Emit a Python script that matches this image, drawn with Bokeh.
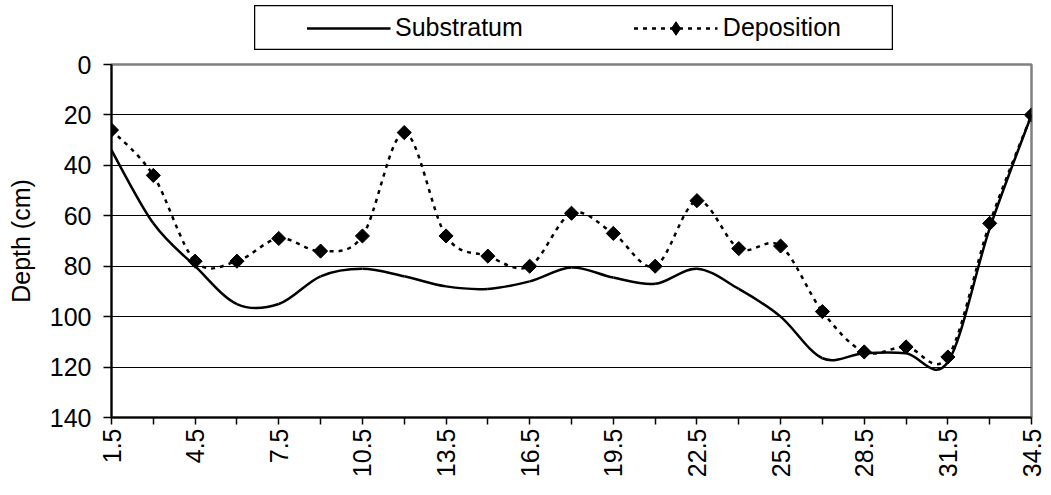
import numpy as np
from bokeh.plotting import figure
from bokeh.models import (Range1d, FixedTicker, Legend, LegendItem, Spacer)
from bokeh.layouts import column, row
from bokeh.embed import file_html
from bokeh.resources import INLINE

# ---- data ----
positions = [1.5, 3, 4.5, 6, 7.5, 9, 10.5, 12, 13.5, 15, 16.5, 18, 19.5, 21,
             22.5, 24, 25.5, 27, 28.5, 30, 31.5, 33, 34.5]
substratum = [34, 63, 80, 95, 95, 84, 81, 84, 88, 89, 86, 80.5, 84.5, 87,
              81, 89, 100, 116.5, 114.5, 114.5, 118, 65, 20]
deposition = [26, 44, 78, 78, 69, 74, 68, 27, 68, 76, 80, 59, 67, 80,
              54, 73, 72, 98, 114, 112, 116, 63, 20]
y_ticks = [0, 20, 40, 60, 80, 100, 120, 140]
x_tick_labels = ["1.5", "4.5", "7.5", "10.5", "13.5", "16.5", "19.5", "22.5",
                 "25.5", "28.5", "31.5", "34.5"]

FONT = "Liberation Sans"
FS = "25px"


def smooth_segments(xs, ys):
    """Bezier control points (Catmull-Rom style smoothing, like a 'smoothed line')."""
    x = np.asarray(xs, float)
    y = np.asarray(ys, float)
    n = len(x)
    xp = np.concatenate([[x[0]], x, [x[-1]]])
    yp = np.concatenate([[y[0]], y, [y[-1]]])
    d = dict(x0=[], y0=[], x1=[], y1=[], cx0=[], cy0=[], cx1=[], cy1=[])
    for i in range(n - 1):
        p0x, p0y = xp[i], yp[i]
        p1x, p1y = xp[i + 1], yp[i + 1]
        p2x, p2y = xp[i + 2], yp[i + 2]
        p3x, p3y = xp[i + 3], yp[i + 3]
        d["x0"].append(p1x); d["y0"].append(p1y)
        d["x1"].append(p2x); d["y1"].append(p2y)
        d["cx0"].append(p1x + (p2x - p0x) / 6.0)
        d["cy0"].append(p1y + (p2y - p0y) / 6.0)
        d["cx1"].append(p2x - (p3x - p1x) / 6.0)
        d["cy1"].append(p2y - (p3y - p1y) / 6.0)
    return d


p = figure(frame_width=920, frame_height=353,
           min_border_left=111, min_border_right=14,
           min_border_top=14, min_border_bottom=68,
           x_range=Range1d(1.5, 34.5), y_range=Range1d(140, 0),
           output_backend="svg", toolbar_location=None)

p.outline_line_color = "#808080"
p.outline_line_width = 2.5
p.background_fill_color = "white"
p.border_fill_color = "white"

sub = smooth_segments(positions, substratum)
dep = smooth_segments(positions, deposition)

p.bezier(x0="x0", y0="y0", x1="x1", y1="y1", cx0="cx0", cy0="cy0",
         cx1="cx1", cy1="cy1", source=sub, line_color="black", line_width=2.5)
p.bezier(x0="x0", y0="y0", x1="x1", y1="y1", cx0="cx0", cy0="cy0",
         cx1="cx1", cy1="cy1", source=dep, line_color="black", line_width=2.5,
         line_dash="4 5")
p.scatter(positions, deposition, marker="square", angle=np.pi / 4, size=10,
          fill_color="black", line_color="black")

# axes
p.xaxis.ticker = FixedTicker(ticks=positions)
overrides = {}
for v in positions:
    s = ("%g" % v)
    overrides[v] = s if s in x_tick_labels else ""
p.xaxis.major_label_overrides = overrides
p.xaxis.major_label_orientation = np.pi / 2
p.xaxis.minor_tick_line_color = None
p.xaxis.major_tick_out = 7
p.xaxis.major_tick_in = 0
p.xaxis.major_label_standoff = 4
p.xaxis.axis_line_width = 2
p.xaxis.axis_line_color = "black"
p.xaxis.major_tick_line_width = 1.5
p.xaxis.major_tick_line_color = "black"

p.yaxis.ticker = FixedTicker(ticks=y_ticks)
p.yaxis.minor_tick_line_color = None
p.yaxis.major_tick_out = 8
p.yaxis.major_tick_in = 0
p.yaxis.major_label_standoff = 12
p.yaxis.axis_line_width = 2
p.yaxis.axis_line_color = "black"
p.yaxis.major_tick_line_width = 1.5
p.yaxis.major_tick_line_color = "black"
p.yaxis.axis_label = "Depth (cm)"
p.yaxis.axis_label_standoff = 12
p.yaxis.axis_label_text_font_style = "normal"

for ax in (p.xaxis, p.yaxis):
    ax.major_label_text_font = FONT
    ax.major_label_text_font_size = FS
    ax.major_label_text_color = "black"
    ax.axis_label_text_font = FONT
    ax.axis_label_text_font_size = FS
    ax.axis_label_text_color = "black"

p.xgrid.grid_line_color = None
p.ygrid.ticker = FixedTicker(ticks=y_ticks[1:-1])
p.ygrid.grid_line_color = "black"
p.ygrid.grid_line_width = 1

# ---- legend box: a small figure whose view range hides the data, legend only ----
lf = figure(width=639, height=45, x_range=Range1d(-20, -10), y_range=Range1d(0, 1),
            output_backend="svg", toolbar_location=None,
            min_border=0, min_border_left=0, min_border_right=0,
            min_border_top=0, min_border_bottom=0)
lf.axis.visible = False
lf.grid.visible = False
lf.outline_line_color = "black"
lf.outline_line_width = 1.5
lr_sub = lf.line(positions, substratum, line_color="black", line_width=2.5)
lr_dep = lf.line(positions, deposition, line_color="black", line_width=2.5,
                 line_dash="4 5")
lr_dm = lf.scatter(positions, deposition, marker="diamond", size=14,
                   fill_color="black", line_color="black")
leg = Legend(items=[LegendItem(label="Substratum", renderers=[lr_sub]),
                    LegendItem(label="Deposition", renderers=[lr_dep, lr_dm])],
             orientation="horizontal", location="center",
             glyph_width=84, glyph_height=34, label_standoff=5, spacing=111,
             padding=0, margin=0, border_line_alpha=0,
             background_fill_alpha=0,
             label_text_font=FONT, label_text_font_size=FS,
             label_text_color="black")
lf.add_layout(leg, "center")

layout = column(Spacer(width=10, height=5),
                row(Spacer(width=254, height=45), lf),
                p)

open("out.html", "w").write(file_html(layout, INLINE))
